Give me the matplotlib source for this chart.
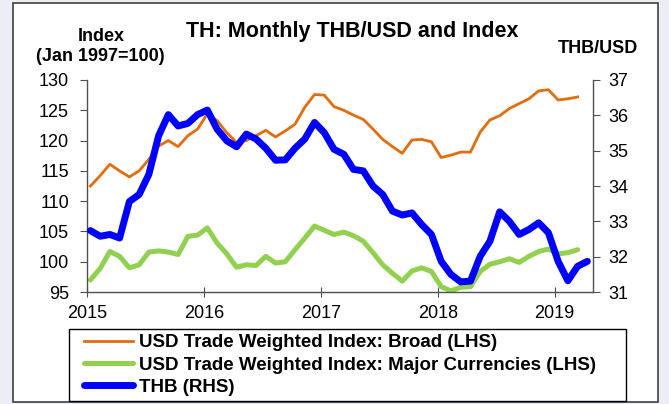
import matplotlib.pyplot as plt
from matplotlib.patches import Rectangle
from matplotlib.lines import Line2D
from matplotlib.legend_handler import HandlerLine2D

plt.rcParams['font.family'] = ['Liberation Sans', 'DejaVu Sans']

# monthly values, Jan 2015 onwards
broad = [112.5, 114.2, 116.1, 115.0, 114.0, 115.0, 116.9, 119.1, 120.0, 119.0, 120.8, 121.9,
         124.4, 123.3, 121.3, 119.7, 120.0, 120.8, 121.7, 120.6, 121.6, 122.7, 125.5, 127.6,
         127.5, 125.6, 125.0, 124.2, 123.5, 121.9, 120.2, 119.0, 117.9, 120.1, 120.2, 119.8,
         117.2, 117.6, 118.1, 118.1, 121.4, 123.4, 124.1, 125.3, 126.1, 126.9, 128.2, 128.4,
         126.7, 126.9, 127.2]
major = [97.0, 98.9, 101.7, 100.9, 99.0, 99.5, 101.6, 101.8, 101.6, 101.2, 104.2, 104.4,
         105.6, 103.1, 101.3, 99.1, 99.5, 99.4, 100.9, 99.8, 100.0, 102.0, 103.9, 105.9,
         105.2, 104.5, 104.9, 104.3, 103.4, 101.5, 99.5, 98.1, 96.8, 98.5, 99.0, 98.4,
         95.9, 95.2, 95.8, 95.9, 98.4, 99.6, 100.0, 100.5, 99.9, 100.9, 101.7, 102.1,
         101.3, 101.5, 102.0]
thb = [32.74, 32.58, 32.63, 32.53, 33.56, 33.76, 34.33, 35.42, 36.02, 35.70, 35.77, 36.02,
       36.15, 35.61, 35.28, 35.11, 35.47, 35.33, 35.07, 34.73, 34.74, 35.07, 35.33, 35.80,
       35.51, 35.04, 34.90, 34.47, 34.43, 34.00, 33.76, 33.29, 33.18, 33.24, 32.91, 32.63,
       31.87, 31.50, 31.29, 31.31, 32.01, 32.44, 33.27, 33.00, 32.63, 32.77, 32.96, 32.68,
       31.87, 31.32, 31.73, 31.87]
years = [2015, 2016, 2017, 2018, 2019]


def month_x(n):
    return [2015 + (i + 0.35) / 12 for i in range(n)]


fig = plt.figure(figsize=(6.69, 4.04), dpi=100)
fig.patch.set_facecolor('#ededf6')
fig.add_artist(Rectangle((0.0194, 0.005), 0.964, 0.988, transform=fig.transFigure,
                         facecolor='white', edgecolor='#404040', linewidth=1.2, zorder=-5))

ax = fig.add_axes([0.130, 0.277, 0.756, 0.525])
ax.patch.set_alpha(0)
ax2 = ax.twinx()

l1, = ax.plot(month_x(len(broad)), broad, color='#e46c0a', lw=2.0,
              label='USD Trade Weighted Index: Broad (LHS)')
l2, = ax.plot(month_x(len(major)), major, color='#92d050', lw=3.6, solid_capstyle='round',
              label='USD Trade Weighted Index: Major Currencies (LHS)')
l3, = ax2.plot(month_x(len(thb)), thb, color='#0000ff', lw=5.0, solid_capstyle='round',
               label='THB (RHS)')

ax.set_xlim(2015, 2019.325)
ax.set_ylim(95, 130)
ax2.set_ylim(31, 37)
ax.set_xticks(years)
ax.set_xticklabels([str(y) for y in years])
ax.set_yticks(range(95, 131, 5))
ax2.set_yticks(range(31, 38))

for a in (ax, ax2):
    a.spines['top'].set_visible(False)
    for s in a.spines.values():
        s.set_color('#505050')
        s.set_linewidth(1.0)
ax.spines['right'].set_visible(False)
ax2.spines['left'].set_visible(False)
ax2.spines['bottom'].set_visible(False)

ax.tick_params(axis='y', direction='out', length=5, pad=8, labelsize=13, color='#505050')
ax.tick_params(axis='x', direction='inout', length=7, pad=6, labelsize=13, color='#505050')
ax2.tick_params(axis='y', direction='out', length=5, pad=6, labelsize=13, color='#505050')

fig.text(0.527, 0.922, 'TH: Monthly THB/USD and Index', ha='center', va='center',
         fontsize=15.5, fontweight='bold')
fig.text(0.151, 0.909, 'Index', ha='center', va='center', fontsize=13, fontweight='bold')
fig.text(0.150, 0.859, '(Jan 1997=100)', ha='center', va='center', fontsize=13,
         fontweight='bold')
fig.text(0.893, 0.879, 'THB/USD', ha='center', va='center', fontsize=13, fontweight='bold')

leg = fig.legend(handles=[l1, l2, l3], loc='upper left',
                 bbox_to_anchor=(0.1031, 0.0198, 0.8326, 0.1658),
                 bbox_transform=fig.transFigure, mode='expand',
                 fancybox=False, frameon=True, edgecolor='black', framealpha=1,
                 prop={'weight': 'bold', 'size': 13.5},
                 handler_map={Line2D: HandlerLine2D(xpad=0.53)},
                 handlelength=3.15, handletextpad=0.3,
                 labelspacing=0.28, borderpad=0.27, borderaxespad=0)
leg.get_frame().set_linewidth(1.0)

fig.savefig('out.png', dpi=100, facecolor=fig.get_facecolor())
